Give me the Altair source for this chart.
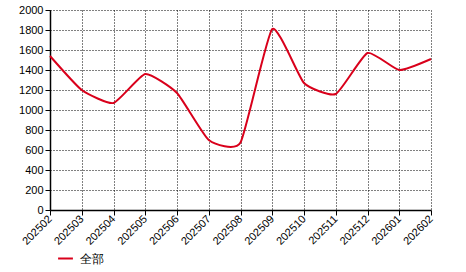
import altair as alt
import pandas as pd

months = ["202502", "202503", "202504", "202505", "202506", "202507", "202508",
          "202509", "202510", "202511", "202512", "202601", "202602"]
values = [1540, 1200, 1070, 1360, 1170, 700, 675, 1810, 1270, 1160, 1570, 1400, 1510]
series = ["全部"] * len(months)

df = pd.DataFrame({"month": months, "value": values, "series": series})

font = "Liberation Sans"

chart = alt.Chart(df).mark_line(
    interpolate="cardinal", tension=0.5, strokeWidth=2, color="#d9001b"
).encode(
    x=alt.X("month:O", sort=months,
            scale=alt.Scale(type="point", padding=0),
            axis=alt.Axis(title=None, labelAngle=315, labelAlign="right",
                          labelBaseline="middle", labelFont=font, labelFontSize=11,
                          labelColor="#000", grid=True, gridColor="#000",
                          gridDash=[1, 2], gridWidth=1, domainColor="#000",
                          tickColor="#000", tickSize=5, labelPadding=2,
                          domainWidth=1.5)),
    y=alt.Y("value:Q", scale=alt.Scale(domain=[0, 2000], nice=False),
            axis=alt.Axis(title=None, values=list(range(0, 2001, 200)), format="d",
                          labelFont=font, labelFontSize=11, labelColor="#000",
                          grid=True, gridColor="#000", gridDash=[1, 2], gridWidth=1,
                          domainColor="#000", tickColor="#000", tickSize=5,
                          labelPadding=2, domainWidth=1.5)),
    color=alt.Color("series:N", scale=alt.Scale(range=["#d9001b"]),
                    legend=alt.Legend(title=None, orient="none", legendX=7, legendY=240,
                                      symbolType="stroke", symbolStrokeWidth=2,
                                      symbolSize=220, labelFont=font, labelFontSize=12,
                                      labelOffset=6, labelColor="#000")),
).properties(
    width=381, height=200,
    autosize=alt.AutoSizeParams(type="none"),
    padding={"left": 50, "top": 10, "right": 35, "bottom": 62},
).configure_view(stroke=None)

chart.save("out.html", embed_options={"renderer": "svg", "actions": False})
